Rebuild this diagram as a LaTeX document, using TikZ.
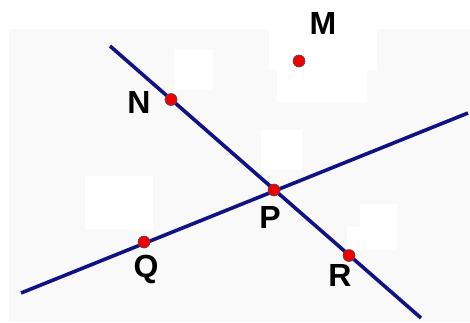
\documentclass[tikz,border=0pt]{standalone}
\usepackage{fontspec}
\setmainfont{Liberation Sans}
\definecolor{linecol}{RGB}{18,18,135}
\definecolor{bggray}{RGB}{249,249,250}
\definecolor{dotred}{RGB}{240,0,0}
\begin{document}
\begin{tikzpicture}[x=1pt,y=-1pt,
  pt/.style={circle,fill=dotred,draw=black!70,line width=0.6pt,inner sep=0pt,minimum size=12pt},
  lbl/.style={font=\fontsize{32}{32}\selectfont\bfseries,inner sep=0pt},
  ln/.style={draw=linecol,line width=3.6pt},
  patch/.style={fill=white,draw=none}]
\useasboundingbox (0,0) rectangle (470,322);
\fill[bggray] (9,29) rectangle (470,322);
\fill[patch] (174,49) rectangle (213,90);
\fill[patch] (269,29) rectangle (377,70);
\fill[patch] (277,70) rectangle (367,103);
\fill[patch] (261,130) rectangle (302,170);
\fill[patch] (85,176) rectangle (153,229);
\fill[patch] (360,204) rectangle (397,250);
\fill[patch] (347,227) rectangle (397,250);
% line ends
\coordinate (a1) at (110,46);
\coordinate (a2) at (421,318);
\coordinate (b1) at (21,293);
\coordinate (b2) at (468,113);
\draw[ln] (a1) -- (a2);
\draw[ln] (b1) -- (b2);
% points
\node[pt] (M) at (299,61) {};
\node[pt] (N) at (171,99.5) {};
\node[pt] (P) at (274,190) {};
\node[pt] (Q) at (144,242) {};
\node[pt] (R) at (349,255.5) {};
% labels
\node[lbl] (lM) at (323,23) {M};
\node[lbl] (lN) at (139,102) {N};
\node[lbl] (lP) at (270,217) {P};
\node[lbl] (lQ) at (146,269) {Q};
\node[lbl] (lR) at (340,275) {R};
\end{tikzpicture}
\end{document}
